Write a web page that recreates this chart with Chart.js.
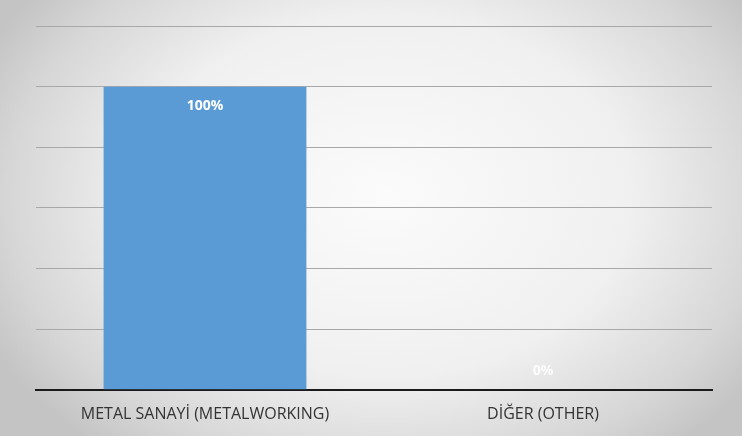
<!DOCTYPE html>
<html>
<head>
<meta charset="utf-8">
<script src="https://cdn.jsdelivr.net/npm/chart.js@4"></script>
<style>
  html,body{margin:0;padding:0;background:#fff;}
  #wrap{position:relative;width:742px;height:436px;
    background:radial-gradient(ellipse 60% 75% at 52% 45%, #fbfbfb 0%, #f0f0f0 55%, #d6d6d6 85%, #c4c4c4 100%);}
  canvas{display:block;}
</style>
</head>
<body>
<div id="wrap"><canvas id="c" width="742" height="436"></canvas></div>
<script>
// Sector share chart
const categories=['METAL SANAYİ (METALWORKING)','DİĞER (OTHER)'];
const shares=[100,0];
const yTicks=[0,20,40,60,80,100,120];

const barLabels={id:'barLabels',afterDatasetsDraw(chart){
  const ctx=chart.ctx, meta=chart.getDatasetMeta(0);
  ctx.save(); ctx.textAlign='center'; ctx.textBaseline='middle';
  meta.data.forEach((b,i)=>{
    const v=shares[i];
    ctx.font='bold 14px "Open Sans", sans-serif';
    ctx.fillStyle= v>0 ? '#ffffff' : 'rgba(255,255,255,0.85)';
    const y= v>0 ? b.y+19 : b.y-19;
    ctx.fillText(v+'%',b.x,y);
  });
  ctx.restore();
}};

new Chart(document.getElementById('c'),{
  type:'bar',
  data:{labels:categories,datasets:[{data:shares,backgroundColor:'#5b9bd5',barPercentage:0.6,categoryPercentage:1}]},
  options:{
    responsive:false,animation:false,
    layout:{padding:{left:36,right:30,top:26,bottom:5}},
    plugins:{legend:{display:false},tooltip:{enabled:false}},
    scales:{
      x:{grid:{display:false},border:{color:'#1a1a1a',width:2},
         ticks:{color:'#333333',font:{family:'"Open Sans", sans-serif',size:16},padding:7}},
      y:{min:yTicks[0],max:yTicks[yTicks.length-1],
         afterBuildTicks:s=>{s.ticks=yTicks.map(v=>({value:v}));},
         ticks:{display:false},border:{display:false},
         grid:{color:'#a8a8a8',lineWidth:1,drawTicks:false}}
    }
  },
  plugins:[barLabels]
});
</script>
</body>
</html>
